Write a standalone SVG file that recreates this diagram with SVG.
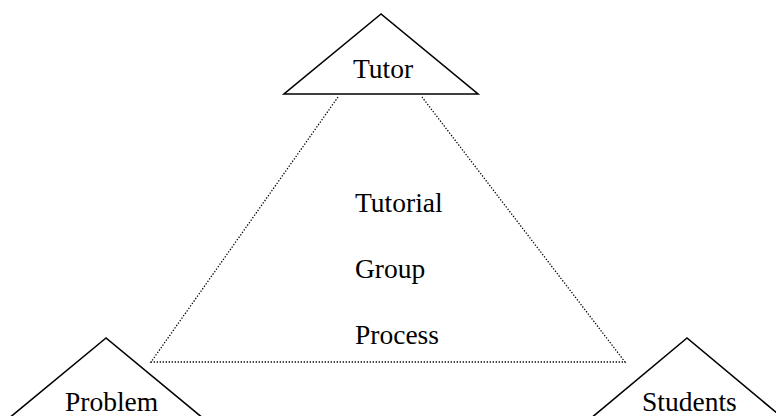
<svg xmlns="http://www.w3.org/2000/svg" width="776" height="416" viewBox="0 0 776 416">
<style>
.tri{fill:#fff;stroke:#000;stroke-width:1.6;stroke-linejoin:miter}
.dot{fill:none;stroke:#000;stroke-width:1.3;stroke-dasharray:1.3,1.7}
text{font-family:"Liberation Serif","Times New Roman",serif;font-size:27.5px;fill:#000}
</style>
<rect width="776" height="416" fill="#fff"/>
<g id="connectors">
<polyline class="dot" points="338,97 151,362 625,362 422,97"/>
</g>
<g id="tutor">
<polygon class="tri" points="381,14 284,94 478,94"/>
<text x="353" y="78">Tutor</text>
</g>
<g id="problem">
<polygon class="tri" points="106,338 8,419 204,419"/>
<text x="65" y="411">Problem</text>
</g>
<g id="students">
<polygon class="tri" points="687,338 590,419 784,419"/>
<text x="642" y="411">Students</text>
</g>
<g id="process">
<text x="355" y="212">Tutorial</text>
<text x="355" y="278">Group</text>
<text x="355" y="344">Process</text>
</g>
</svg>
